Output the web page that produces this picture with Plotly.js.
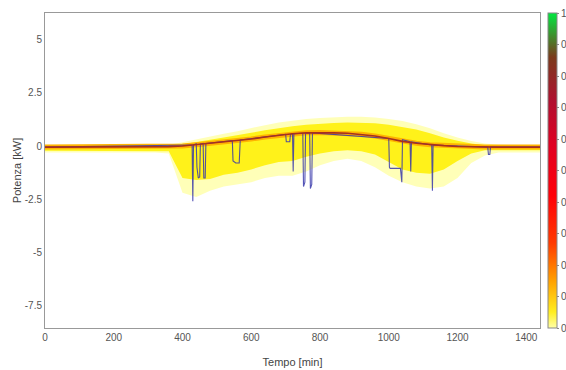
<!DOCTYPE html>
<html><head><meta charset="utf-8">
<script src="https://cdn.plot.ly/plotly-3.0.1.min.js"></script>
<style>html,body{margin:0;padding:0;background:#fff}#g{width:566px;height:370px}</style>
</head><body><div id="g"></div>
<script>
// time grid (min)
const t = [0,40,80,120,160,200,240,280,320,360,400,440,480,520,560,600,640,680,720,760,800,840,880,920,960,1000,1040,1080,1120,1160,1200,1240,1280,1320,1360,1400,1440];
// median profile (red line), kW
const median = [-0.05,-0.05,-0.05,-0.05,-0.05,-0.05,-0.05,-0.05,-0.05,-0.03,0.0,0.06,0.12,0.18,0.25,0.33,0.42,0.5,0.58,0.62,0.63,0.62,0.6,0.55,0.47,0.35,0.22,0.13,0.06,0.02,-0.02,-0.04,-0.05,-0.05,-0.05,-0.05,-0.05];
// dense (bright yellow) band
const denseUpper = [0.0,0.0,0.0,0.0,0.0,0.0,0.0,0.0,0.0,0.02,0.08,0.2,0.3,0.4,0.5,0.62,0.74,0.85,0.93,1.0,1.05,1.08,1.1,1.1,1.07,1.0,0.9,0.78,0.6,0.4,0.25,0.12,0.04,0.0,0.0,0.0,0.0];
const denseLower = [-0.22,-0.22,-0.22,-0.22,-0.22,-0.22,-0.22,-0.22,-0.22,-0.25,-1.5,-1.6,-1.55,-1.35,-1.25,-1.1,-0.9,-0.75,-0.7,-0.5,-0.35,-0.25,-0.2,-0.25,-0.4,-0.75,-1.1,-1.25,-1.3,-1.1,-0.7,-0.35,-0.2,-0.2,-0.2,-0.2,-0.2];
// sparse (pale yellow) band
const sparseUpper = [0.04,0.04,0.04,0.04,0.04,0.04,0.04,0.04,0.04,0.06,0.18,0.32,0.46,0.58,0.7,0.85,0.98,1.1,1.2,1.27,1.32,1.35,1.37,1.37,1.34,1.27,1.17,1.02,0.84,0.6,0.4,0.24,0.12,0.06,0.04,0.04,0.04];
const sparseLower = [-0.3,-0.3,-0.3,-0.3,-0.3,-0.3,-0.3,-0.3,-0.3,-0.35,-2.2,-2.4,-2.1,-1.9,-1.8,-1.7,-1.5,-1.4,-1.4,-1.2,-0.9,-0.7,-0.6,-0.7,-1.0,-1.4,-1.7,-1.9,-2.0,-1.9,-1.5,-0.8,-0.45,-0.3,-0.3,-0.3,-0.3];
// single-day profile (blue line)
const dayT = [0,420,428,430,432,440,442,446,450,452,460,462,466,468,545,547,555,565,568,700,702,712,714,720,722,724,750,752,756,758,770,772,776,778,1000,1002,1004,1034,1036,1038,1040,1062,1064,1066,1125,1127,1129,1288,1290,1294,1296,1440];
const dayP = [-0.05,0.05,0.05,-2.6,0.05,0.1,-1.0,-1.5,-1.45,0.1,0.12,-1.5,-1.5,0.12,0.25,-0.7,-0.8,-0.8,0.28,0.55,0.2,0.2,0.55,0.58,-1.2,0.58,0.6,-1.9,-1.7,0.6,0.62,-2.0,-1.8,0.62,0.35,-1.0,-1.05,-1.05,-1.7,-1.7,0.3,0.2,-1.2,0.2,0.05,-2.1,0.05,-0.05,-0.4,-0.4,-0.05,-0.05];
// colorbar
const cbTicks = [0,0.1,0.2,0.3,0.4,0.5,0.6,0.7,0.8,0.9,1];
const cbLabels = ['0','0.1','0.2','0.3','0.4','0.5','0.6','0.7','0.8','0.9','1'];
const cscale = [[0,'#ffffa8'],[0.05,'#ffee20'],[0.15,'#ffa000'],[0.27,'#ff3a00'],[0.42,'#ff0008'],[0.58,'#e00022'],[0.72,'#b01030'],[0.86,'#7a3a1c'],[1,'#00e840']];

const traces = [
  {x:t, y:sparseLower, mode:'lines', line:{width:0, color:'rgba(0,0,0,0)'}, hoverinfo:'skip', showlegend:false},
  {x:t, y:sparseUpper, mode:'lines', fill:'tonexty', fillcolor:'#ffffb8', line:{width:0, color:'rgba(0,0,0,0)'}, hoverinfo:'skip', showlegend:false},
  {x:t, y:denseLower, mode:'lines', line:{width:0, color:'rgba(0,0,0,0)'}, hoverinfo:'skip', showlegend:false},
  {x:t, y:denseUpper, mode:'lines', fill:'tonexty', fillcolor:'#fff21a', line:{width:0, color:'rgba(0,0,0,0)'}, hoverinfo:'skip', showlegend:false},
  {x:t, y:median, mode:'lines', line:{width:5, color:'#ffb400'}, hoverinfo:'skip', showlegend:false},
  {x:dayT, y:dayP, mode:'lines', line:{width:1.1, color:'rgba(55,55,170,0.85)'}, showlegend:false},
  {x:t, y:median, mode:'lines', line:{width:1.6, color:'#a8301e'}, showlegend:false},
  {x:[-500], y:[-50], mode:'markers', showlegend:false, hoverinfo:'skip',
   marker:{color:[0], cmin:0, cmax:1, colorscale:cscale, showscale:true, size:1,
     colorbar:{x:1.016, xanchor:'left', xref:'paper', y:0, yanchor:'bottom', len:1, lenmode:'fraction',
       thickness:9, thicknessmode:'pixels', xpad:0, ypad:0, outlinewidth:1, outlinecolor:'#888',
       tickvals:cbTicks, ticktext:cbLabels, ticks:'outside', ticklen:2, tickcolor:'#888',
       tickfont:{family:'Liberation Sans, Arial', size:10, color:'#555'}}}}
];

const layout = {
  width:566, height:370,
  margin:{l:45, r:26, t:13, b:42, autoexpand:false},
  paper_bgcolor:'#fff', plot_bgcolor:'#fff',
  font:{family:'Liberation Sans, Arial', size:10, color:'#555'},
  xaxis:{range:[0,1440], tickvals:[0,200,400,600,800,1000,1200,1400], showgrid:false, zeroline:false,
    showline:true, mirror:true, linecolor:'#999', linewidth:1, ticks:'', automargin:false,
    tickfont:{size:10, color:'#555'},
    title:{text:'Tempo [min]', font:{size:11, color:'#444'}, standoff:16}},
  yaxis:{range:[-8.55,6.25], tickvals:[5,2.5,0,-2.5,-5,-7.5], ticktext:['5','2.5','0','-2.5','-5','-7.5'],
    showgrid:false, zeroline:false, showline:true, mirror:true, linecolor:'#999', linewidth:1, ticks:'', automargin:false,
    tickfont:{size:10, color:'#555'},
    title:{text:'Potenza [kW]', font:{size:11, color:'#444'}, standoff:0}}
};
Plotly.newPlot('g', traces, layout, {displayModeBar:false, staticPlot:true});
</script></body></html>
